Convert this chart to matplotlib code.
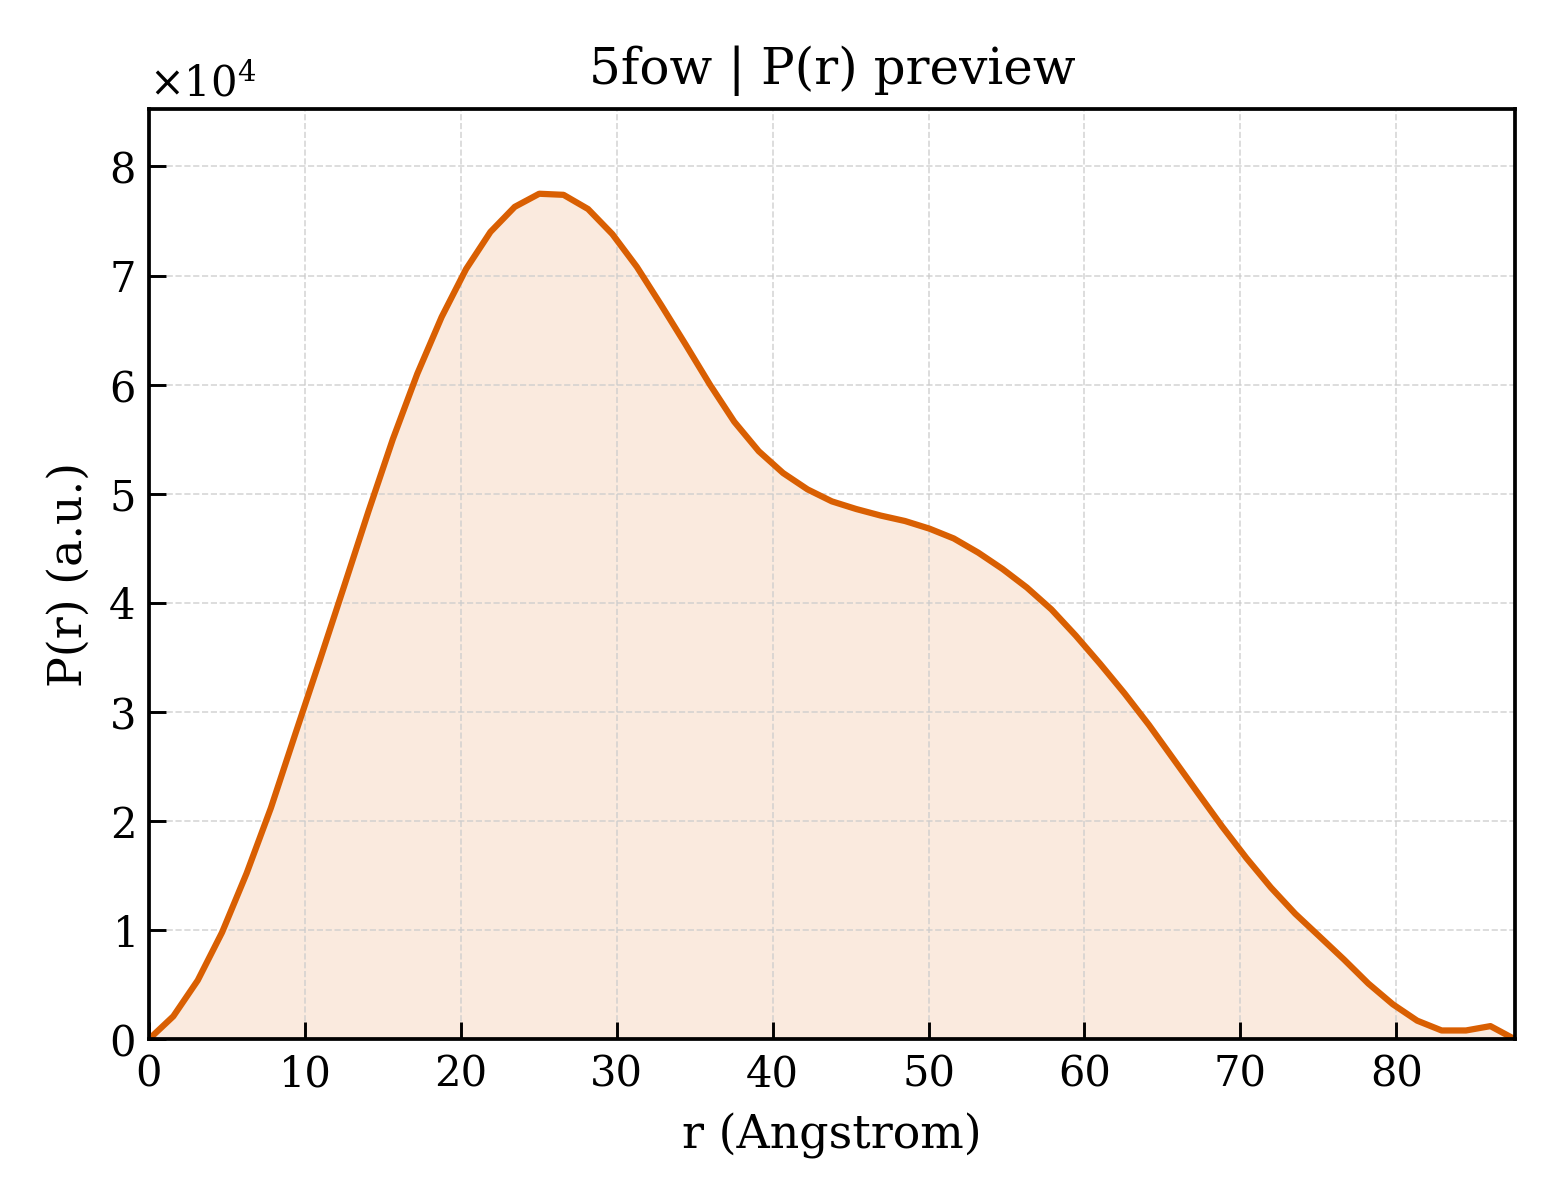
import matplotlib
matplotlib.use("Agg")
import matplotlib.pyplot as plt
from matplotlib.ticker import ScalarFormatter

plt.rcParams["font.family"] = ["DejaVu Serif"]
plt.rcParams["mathtext.fontset"] = "dejavuserif"

# r grid (Angstrom) and P(r) values in units of 1e4
r = [0.0, 1.56, 3.13, 4.69, 6.26, 7.82, 9.39, 10.95, 12.51, 14.08,
     15.64, 17.21, 18.77, 20.34, 21.90, 23.46, 25.03, 26.59, 28.16, 29.72,
     31.29, 32.85, 34.41, 35.98, 37.54, 39.11, 40.67, 42.24, 43.80, 45.36,
     46.93, 48.49, 50.06, 51.62, 53.19, 54.75, 56.31, 57.88, 59.44, 61.01,
     62.57, 64.14, 65.70, 67.26, 68.83, 70.39, 71.96, 73.52, 75.09, 76.65,
     78.21, 79.78, 81.34, 82.91, 84.47, 86.04, 87.60]
pr_1e4 = [0.00, 0.21, 0.54, 0.98, 1.52, 2.12, 2.80, 3.47, 4.15, 4.84,
          5.50, 6.10, 6.62, 7.06, 7.40, 7.63, 7.75, 7.74, 7.61, 7.38,
          7.08, 6.73, 6.37, 6.00, 5.66, 5.39, 5.19, 5.04, 4.93, 4.86,
          4.80, 4.75, 4.68, 4.59, 4.46, 4.31, 4.14, 3.94, 3.70, 3.44,
          3.17, 2.88, 2.57, 2.26, 1.95, 1.66, 1.39, 1.15, 0.94, 0.73,
          0.51, 0.32, 0.17, 0.08, 0.08, 0.12, 0.00]
pr = [v * 1e4 for v in pr_1e4]

color = "#d95f02"

fig = plt.figure(figsize=(5.2, 4), dpi=300)
ax = fig.add_axes([0.0955, 0.134, 0.8755, 0.775])

ax.fill_between(r, pr, 0, color=color, alpha=0.13, linewidth=0)
ax.plot(r, pr, color=color, linewidth=1.5)

ax.set_xlim(0, r[-1])
ax.set_ylim(0, max(pr) * 1.1)

fmt = ScalarFormatter(useMathText=True)
fmt.set_scientific(True)
fmt.set_powerlimits((0, 0))
ax.yaxis.set_major_formatter(fmt)

ax.grid(True, linestyle="--", linewidth=0.4, color="#cccccc", alpha=0.8)
ax.tick_params(direction="in", length=4, width=0.7, labelsize=10)
for s in ax.spines.values():
    s.set_linewidth(0.9)
ax.yaxis.get_offset_text().set_fontsize(10)

ax.set_xlabel("r (Angstrom)", fontsize=11)
ax.set_ylabel("P(r) (a.u.)", fontsize=11)
ax.set_title("5fow | P(r) preview", fontsize=12)

fig.savefig("out.png", dpi=300)
